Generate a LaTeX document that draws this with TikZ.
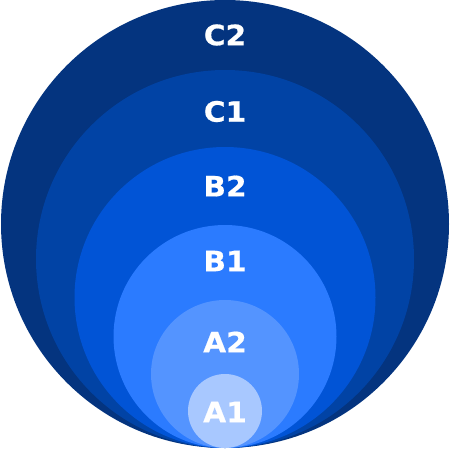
\documentclass[tikz,border=0pt]{standalone}
\usepackage{fontspec}
\newfontfamily\labelfont[FakeStretch=1.06,FakeBold=0.6]{DejaVu Sans Bold}
\usepackage{tikz}

\definecolor{cTwo}{HTML}{04347F}
\definecolor{cOne}{HTML}{0143A5}
\definecolor{bTwo}{HTML}{0154D6}
\definecolor{bOne}{HTML}{2B7BFF}
\definecolor{aTwo}{HTML}{5494FF}
\definecolor{aOne}{HTML}{A8C8FF}

\begin{document}
\begin{tikzpicture}[x=1pt,y=-1pt]
  \tikzset{disc/.style = {fill=#1,draw=none}}
  \tikzset{level/.style = {text=white,inner sep=0pt,
      font=\fontsize{28pt}{33pt}\labelfont}}

  \useasboundingbox (0,0) rectangle (450,450);

  % nested discs, all touching at the bottom
  \foreach \r/\col in {224/cTwo, 189/cOne, 150.5/bTwo, 111.5/bOne, 74/aTwo, 37/aOne}
    \path[disc=\col] (225,448-\r) circle (\r);

	\node[level] (C2) at (225,35) {C2};
	\node[level] (C1) at (225,111.5) {C1};
	\node[level] (B2) at (225,186) {B2};
	\node[level] (B1) at (225,261) {B1};
	\node[level] (A2) at (225,342) {A2};
	\node[level] (A1) at (225,412) {A1};
\end{tikzpicture}
\end{document}
